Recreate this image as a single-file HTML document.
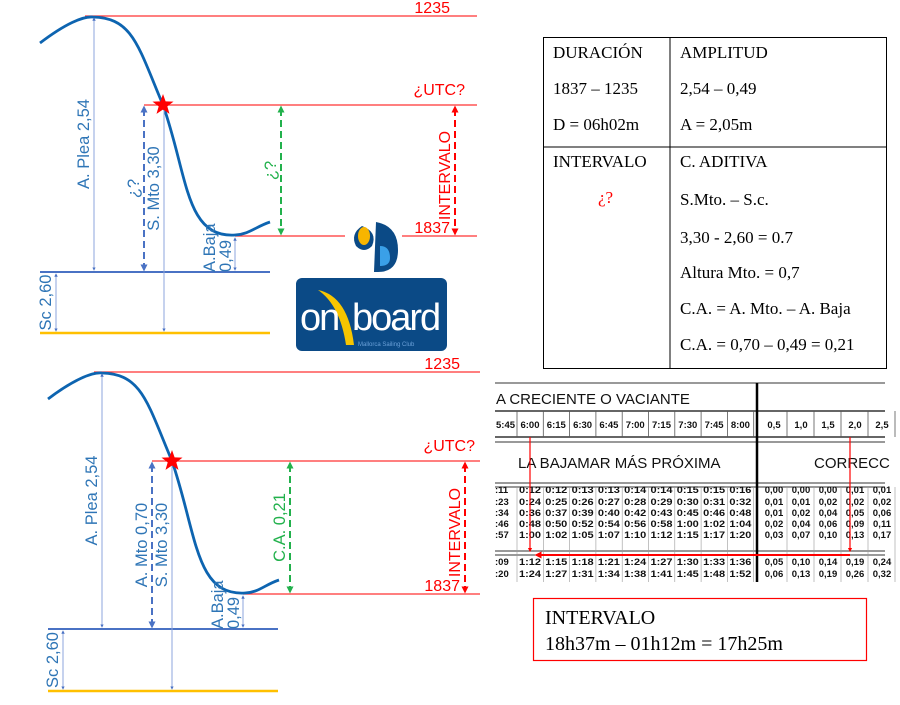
<!DOCTYPE html>
<html><head><meta charset="utf-8">
<style>
html,body{margin:0;padding:0;background:#fff;}
svg{display:block;}
.bl{font-family:"Liberation Sans",sans-serif;fill:#2e75b6;font-size:16.5px;}
.rd{font-family:"Liberation Sans",sans-serif;fill:#ff0000;font-size:16px;}
.gr{font-family:"Liberation Sans",sans-serif;fill:#22b14c;font-size:16.5px;}
.tb{font-family:"Liberation Serif",serif;font-size:17px;fill:#000;}
.tt{font-family:"Liberation Sans",sans-serif;font-size:9.5px;fill:#111;font-weight:bold;}
</style></head>
<body>
<svg id="s" width="900" height="705" viewBox="0 0 900 705" xmlns="http://www.w3.org/2000/svg">
<defs>
<marker id="ab" viewBox="0 0 10 10" refX="5" refY="5" markerWidth="3.5" markerHeight="3.5" orient="auto-start-reverse"><path d="M0,0L10,5L0,10z" fill="#4a72c4"/></marker>
<marker id="ag" viewBox="0 0 10 10" refX="5" refY="5" markerWidth="3.5" markerHeight="3.5" orient="auto-start-reverse"><path d="M0,0L10,5L0,10z" fill="#22b14c"/></marker>
<marker id="ar" viewBox="0 0 10 10" refX="5" refY="5" markerWidth="3.5" markerHeight="3.5" orient="auto-start-reverse"><path d="M0,0L10,5L0,10z" fill="#ff0000"/></marker>
</defs>
<g id="diagrams"></g>

<g>
<path d="M362,226 q-12,8 -6,20 q8,8 16,0 q6,-14 -10,-20z" fill="#0b4a86"/>
<ellipse cx="364" cy="236" rx="6" ry="9" fill="#f7b500"/>
<path d="M376,222 q22,4 22,28 q0,22 -20,22 l-4,0 z" fill="#0b4a86"/>
<path d="M380,246 q10,0 10,12 q0,8 -10,8z" fill="#3aa0e8"/>
<rect x="296" y="278" width="151" height="73" rx="6" fill="#0b4a86"/>
<path d="M318,290 q30,6 36,55 l-8,0 q-6,-40 -28,-55z" fill="#f7c500"/>
<text x="300" y="330" font-family="Liberation Sans,sans-serif" font-size="38" fill="#fff" letter-spacing="-2">on</text>
<text x="352" y="330" font-family="Liberation Sans,sans-serif" font-size="38" fill="#fff" letter-spacing="-2">board</text>
<text x="358" y="346" font-family="Liberation Sans,sans-serif" font-size="6" fill="#6aa0d8">Mallorca Sailing Club</text>
</g>

<g>
<rect x="543.5" y="37.5" width="343" height="331" fill="none" stroke="#000" stroke-width="1"/>
<line x1="670" y1="37" x2="670" y2="368" stroke="#000"/>
<line x1="543" y1="147" x2="886" y2="147" stroke="#000"/>
<text class="tb" x="553" y="58">DURACIÓN</text>
<text class="tb" x="553" y="94">1837 – 1235</text>
<text class="tb" x="553" y="130">D = 06h02m</text>
<text class="tb" x="680" y="58">AMPLITUD</text>
<text class="tb" x="680" y="94">2,54 – 0,49</text>
<text class="tb" x="680" y="130">A = 2,05m</text>
<text class="tb" x="553" y="167">INTERVALO</text>
<text class="tb" x="598" y="203" style="fill:#ff0000">¿?</text>
<text class="tb" x="680" y="167">C. ADITIVA</text>
<text class="tb" x="680" y="205">S.Mto. – S.c.</text>
<text class="tb" x="680" y="243">3,30 - 2,60 = 0.7</text>
<text class="tb" x="680" y="278">Altura Mto. = 0,7</text>
<text class="tb" x="680" y="314">C.A. = A. Mto. – A. Baja</text>
<text class="tb" x="680" y="350">C.A. = 0,70 – 0,49 = 0,21</text>
</g>

<g id="scan"></g>

<g>
<rect x="533.5" y="598.5" width="333" height="62" fill="#fff" stroke="#ff0000" stroke-width="1.2"/>
<text x="545" y="624" font-family="Liberation Serif,serif" font-size="20">INTERVALO</text>
<text x="545" y="650" font-family="Liberation Serif,serif" font-size="20">18h37m – 01h12m = 17h25m</text>
</g>
</svg>
<script>
const NS='http://www.w3.org/2000/svg';
function el(parent,tag,attrs,txt){const e=document.createElementNS(NS,tag);for(const k in attrs)e.setAttribute(k,attrs[k]);if(txt!=null)e.textContent=txt;parent.appendChild(e);return e;}

const diagrams=[
 {x0:40,pk:93,top:16,utc:105,star:163,low:236,trough:235,base:272,sc:333,lineEnd:477,
  xPlea:94,xMto:144,xS:164,xBaja:235,xSc:56,xG:281,xR:455,mtoLabel:'¿?',gLabel:'¿?',gap:true,lowEnd:270,lowEndY:222},
 {x0:48,pk:102,top:372,utc:461,star:172,low:594,trough:245,base:629,sc:691,lineEnd:480,
  xPlea:102,xMto:152,xS:172,xBaja:243,xSc:63,xG:290,xR:465,mtoLabel:'A. Mto 0,70',gLabel:'C.A. 0,21',gap:false,lowEnd:279,lowEndY:580}
];
const g=document.getElementById('diagrams');
diagrams.forEach((d,i)=>{
 const G=el(g,'g',{});
 
 
 const R='#ff3333';
 el(G,'line',{x1:d.pk-8,y1:d.top,x2:d.lineEnd,y2:d.top,stroke:R,'stroke-width':1.3});
 el(G,'line',{x1:d.xMto,y1:d.utc,x2:d.lineEnd,y2:d.utc,stroke:R,'stroke-width':1.3});
 if(d.gap){el(G,'line',{x1:d.xBaja,y1:d.low,x2:345,y2:d.low,stroke:R,'stroke-width':1.3});el(G,'line',{x1:402,y1:d.low,x2:d.lineEnd,y2:d.low,stroke:R,'stroke-width':1.3});}
 else el(G,'line',{x1:d.xBaja,y1:d.low,x2:d.lineEnd,y2:d.low,stroke:R,'stroke-width':1.3});
 el(G,'line',{x1:d.x0,y1:d.base,x2:d.x0+230,y2:d.base,stroke:'#4a72c4','stroke-width':2});
 el(G,'line',{x1:d.x0,y1:d.sc,x2:d.x0+230,y2:d.sc,stroke:'#ffc000','stroke-width':2.5});
 const p=`M${d.x0},${d.top+27} C${d.x0+25},${d.top+8} ${d.pk-10},${d.top} ${d.pk},${d.top+1} C${d.pk+40},${d.top+2} ${d.star-25},${d.top+30} ${d.star},${d.utc} C${d.star+25},${d.low-60} ${d.trough-50},${d.low+2} ${d.trough},${d.low-1} C${d.trough+15},${d.low-2} ${d.lowEnd-15},${d.lowEndY+5} ${d.lowEnd},${d.lowEndY}`;
 el(G,'path',{d:p,fill:'none',stroke:'#0d64b0','stroke-width':2.8});
 const thin={stroke:'#8ea6dc','stroke-width':1,'marker-start':'url(#ab)','marker-end':'url(#ab)'};
 el(G,'line',Object.assign({x1:d.xPlea,y1:d.top+3,x2:d.xPlea,y2:d.base-3},thin));
 el(G,'line',Object.assign({x1:d.xS,y1:d.utc+3,x2:d.xS,y2:d.sc-3},thin));
 el(G,'line',Object.assign({x1:d.xBaja,y1:d.low+3,x2:d.xBaja,y2:d.base-3},thin));
 el(G,'line',Object.assign({x1:d.xSc,y1:d.base+3,x2:d.xSc,y2:d.sc-3},thin));
 el(G,'line',{x1:d.xMto,y1:d.utc+4,x2:d.xMto,y2:d.base-4,stroke:'#4a72c4','stroke-width':2,'stroke-dasharray':'7,4','marker-start':'url(#ab)','marker-end':'url(#ab)'});
 el(G,'line',{x1:d.xG,y1:d.utc+4,x2:d.xG,y2:d.low-4,stroke:'#22b14c','stroke-width':2,'stroke-dasharray':'7,4','marker-start':'url(#ag)','marker-end':'url(#ag)'});
 el(G,'line',{x1:d.xR,y1:d.utc+4,x2:d.xR,y2:d.low-4,stroke:'#ff0000','stroke-width':2,'stroke-dasharray':'7,4','marker-start':'url(#ar)','marker-end':'url(#ar)'});
 const sx=d.star,sy=d.utc;let sp='';
 for(let k=0;k<10;k++){const r=k%2?4.5:11;const a=-Math.PI/2+k*Math.PI/5;sp+=(k?'L':'M')+(sx+r*Math.cos(a)).toFixed(1)+','+(sy+r*Math.sin(a)).toFixed(1);}
 el(G,'path',{d:sp+'z',fill:'#ff0000'});
 const rot=(cls,x,y,t,anchor)=>el(G,'text',{class:cls,x:x,y:y,transform:`rotate(-90 ${x} ${y})`,'text-anchor':anchor||'middle'},t);
 const midP=(d.top+d.base)/2, midU=(d.utc+d.base)/2, midG=(d.utc+d.low)/2;
 rot('bl',d.xPlea-5,midP,'A. Plea 2,54');
 rot('bl',d.xMto-5,midU,d.mtoLabel);
 rot('bl',d.xS-5,midU,'S. Mto 3,30');
 rot('bl',d.xSc-5,(d.base+d.sc)/2,'Sc 2,60');
 rot('bl',d.xBaja-20,d.base,'A.Baja','start');
 rot('bl',d.xBaja-4,d.base,'0,49','start');
 rot('gr',d.xG-5,midG,d.gLabel);
 rot('rd',d.xR-5,midG+5,'INTERVALO');
 el(G,'text',{class:'rd',x:d.xR-5,y:d.top-3,'text-anchor':'end'},'1235');
 el(G,'text',{class:'rd',x:d.xR+10,y:d.utc-10,'text-anchor':'end'},'¿UTC?');
 el(G,'text',{class:'rd',x:d.xR-5,y:d.low-3,'text-anchor':'end'},'1837');
});

const timeHeads=['6:00','6:15','6:30','6:45','7:00','7:15','7:30','7:45','8:00'];
const corrHeads=['0,5','1,0','1,5','2,0','2,5'];
const timeRows=[
 ['0:12','0:12','0:13','0:13','0:14','0:14','0:15','0:15','0:16'],
 ['0:24','0:25','0:26','0:27','0:28','0:29','0:30','0:31','0:32'],
 ['0:36','0:37','0:39','0:40','0:42','0:43','0:45','0:46','0:48'],
 ['0:48','0:50','0:52','0:54','0:56','0:58','1:00','1:02','1:04'],
 ['1:00','1:02','1:05','1:07','1:10','1:12','1:15','1:17','1:20'],
 ['1:12','1:15','1:18','1:21','1:24','1:27','1:30','1:33','1:36'],
 ['1:24','1:27','1:31','1:34','1:38','1:41','1:45','1:48','1:52']];
const corrRows=[
 ['0,00','0,00','0,00','0,01','0,01'],['0,01','0,01','0,02','0,02','0,02'],
 ['0,01','0,02','0,04','0,05','0,06'],['0,02','0,04','0,06','0,09','0,11'],
 ['0,03','0,07','0,10','0,13','0,17'],['0,05','0,10','0,14','0,19','0,24'],
 ['0,06','0,13','0,19','0,26','0,32']];
const leftEdge=[':11',':23',':34',':46',':57',':09',':20'];
const S=document.getElementById('scan');
const ty=[493,505,516,527,538,565,577];
const tx=i=>530+i*26.3, cx=i=>774+i*27;
[383,411,437,442,483,487,551,555].forEach(y=>el(S,'line',{x1:495,y1:y,x2:885,y2:y,stroke:'#333','stroke-width':(y==411||y==437)?1.5:1}));
el(S,'line',{x1:757,y1:383,x2:757,y2:582,stroke:'#000','stroke-width':2.5});
for(let i=0;i<=9;i++){el(S,'line',{x1:tx(i)-13,y1:411,x2:tx(i)-13,y2:437,stroke:'#555','stroke-width':0.8});}
for(let i=0;i<5;i++){el(S,'line',{x1:cx(i)+13,y1:411,x2:cx(i)+13,y2:437,stroke:'#555','stroke-width':0.8});}
for(let i=0;i<=9;i++){el(S,'line',{x1:tx(i)-13,y1:487,x2:tx(i)-13,y2:582,stroke:'#999','stroke-width':0.6});}
for(let i=0;i<5;i++){el(S,'line',{x1:cx(i)+13,y1:487,x2:cx(i)+13,y2:582,stroke:'#999','stroke-width':0.6});}
el(S,'text',{x:496,y:404,'font-family':'Liberation Sans,sans-serif','font-size':15,fill:'#111'},'A CRECIENTE O VACIANTE');
el(S,'text',{x:518,y:468,'font-family':'Liberation Sans,sans-serif','font-size':15,fill:'#111'},'LA BAJAMAR MÁS PRÓXIMA');
el(S,'text',{x:814,y:468,'font-family':'Liberation Sans,sans-serif','font-size':15,fill:'#111'},'CORRECC');
el(S,'text',{class:'tt',x:496,y:428,'font-size':11},'5:45');
timeHeads.forEach((t,i)=>el(S,'text',{class:'tt',x:tx(i),y:428,'text-anchor':'middle','font-size':11},t));
corrHeads.forEach((t,i)=>el(S,'text',{class:'tt',x:cx(i),y:428,'text-anchor':'middle','font-size':11},t));
timeRows.forEach((r,j)=>{
 el(S,'text',{class:'tt',x:495,y:ty[j]},leftEdge[j]);
 r.forEach((t,i)=>el(S,'text',{class:'tt',x:tx(i),y:ty[j],'text-anchor':'middle',textLength:22,lengthAdjust:'spacingAndGlyphs'},t));
 corrRows[j].forEach((t,i)=>el(S,'text',{class:'tt',x:cx(i),y:ty[j],'text-anchor':'middle'},t));
});
el(S,'line',{x1:530,y1:437,x2:530,y2:550,stroke:'#ff0000','stroke-width':1.2,'marker-end':'url(#ar)'});
el(S,'line',{x1:850,y1:437,x2:850,y2:550,stroke:'#ff0000','stroke-width':1.2,'marker-end':'url(#ar)'});
el(S,'line',{x1:850,y1:555,x2:538,y2:555,stroke:'#ff0000','stroke-width':2,'marker-end':'url(#ar)'});
</script>
</body></html>
